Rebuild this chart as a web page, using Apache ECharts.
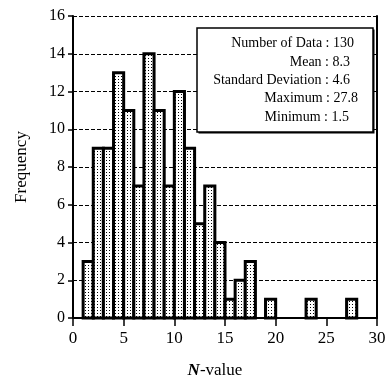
<!DOCTYPE html>
<html>
<head>
<meta charset="utf-8">
<script src="https://cdn.jsdelivr.net/npm/echarts@6/dist/echarts.min.js"></script>
<style>
  html, body { margin: 0; padding: 0; background: #fff; }
  #chart { width: 388px; height: 380px; }
</style>
</head>
<body>
<div id="chart"></div>
<script>
// bins are 1 unit wide, starting at binStart
var binStart = [1, 2, 3, 4, 5, 6, 7, 8, 9, 10, 11, 12, 13, 14, 15, 16, 17, 19, 23, 27]
var frequency = [3, 9, 9, 13, 11, 7, 14, 11, 7, 12, 9, 5, 7, 4, 1, 2, 3, 1, 1, 1]
var yTicks = [0, 2, 4, 6, 8, 10, 12, 14, 16]
var xTicks = [0, 5, 10, 15, 20, 25, 30]
var statLabels = ['Number of Data', 'Mean', 'Standard Deviation', 'Maximum', 'Minimum']
var statValues = ['130', '8.3', '4.6', '27.8', '1.5']

var serif = '"Liberation Serif", "DejaVu Serif", serif'

// dotted fill for the bars
var tile = document.createElement('canvas')
tile.width = 3
tile.height = 3
var tctx = tile.getContext('2d')
tctx.fillStyle = '#fff'
tctx.fillRect(0, 0, 3, 3)
tctx.fillStyle = '#000'
tctx.fillRect(1, 1, 1, 1)

var chart = echarts.init(document.getElementById('chart'))

var barData = binStart.map(function (s, i) { return [s, frequency[i]] })

var statRight = [354, 350, 350, 358, 349]
var statTop = [43, 62, 80, 98, 117]
var statGraphics = statLabels.map(function (lab, i) {
  return {
    type: 'text',
    z: 102,
    style: {
      x: statRight[i],
      y: statTop[i],
      text: lab + ' : ' + statValues[i],
      textAlign: 'right',
      textVerticalAlign: 'middle',
      font: '14px ' + serif,
      fill: '#000'
    }
  }
})

var option = {
  animation: false,
  backgroundColor: '#fff',
  grid: { left: 73, right: 11, top: 16, bottom: 62, containLabel: false, outerBoundsMode: 'none' },
  xAxis: {
    type: 'value',
    min: xTicks[0],
    max: xTicks[xTicks.length - 1],
    interval: 5,
    name: '{n|N}-value',
    nameLocation: 'middle',
    nameGap: 44,
    nameTextStyle: {
      fontFamily: serif,
      fontSize: 17,
      color: '#000',
      padding: [0, 20, 0, 0],
      rich: {
        n: { fontFamily: serif, fontSize: 17, fontStyle: 'italic', fontWeight: 'bold', color: '#000' }
      }
    },
    axisLine: { lineStyle: { color: '#000', width: 2 } },
    axisTick: { show: true, length: 8, lineStyle: { color: '#000', width: 1.5 } },
    axisLabel: { color: '#000', fontFamily: serif, fontSize: 17, margin: 12 },
    splitLine: { show: false }
  },
  yAxis: [{
    type: 'value',
    min: yTicks[0],
    max: yTicks[yTicks.length - 1],
    interval: 2,
    name: 'Frequency',
    nameLocation: 'middle',
    nameGap: 43,
    nameTextStyle: { fontFamily: serif, fontSize: 17, color: '#000' },
    axisLine: { show: true, lineStyle: { color: '#000', width: 2 } },
    axisTick: { show: true, length: 5, lineStyle: { color: '#000', width: 1.5 } },
    axisLabel: { color: '#000', fontFamily: serif, fontSize: 16, margin: 8 },
    splitLine: { show: true, lineStyle: { color: '#000', type: [4, 2], width: 1.2 } }
  }, {
    type: 'value',
    position: 'right',
    min: 0,
    max: 16,
    interval: 2,
    axisLine: { show: true, lineStyle: { color: '#000', width: 2 } },
    axisTick: { show: false },
    axisLabel: { show: false },
    splitLine: { show: false }
  }],
  series: [{
    type: 'custom',
    data: barData,
    renderItem: function (params, api) {
      var s = api.value(0)
      var v = api.value(1)
      var p0 = api.coord([s, 0])
      var p1 = api.coord([s + 1, v])
      return {
        type: 'rect',
        shape: { x: p0[0], y: p1[1], width: p1[0] - p0[0], height: p0[1] - p1[1] },
        style: {
          fill: { image: tile, repeat: 'repeat' },
          stroke: '#000',
          lineWidth: 3
        }
      }
    },
    z: 3
  }],
  graphic: [{
    type: 'rect',
    z: 100,
    shape: { x: 198.5, y: 29.5, width: 176, height: 104 },
    style: { fill: '#000' }
  }, {
    type: 'rect',
    z: 101,
    shape: { x: 197, y: 28, width: 176, height: 104 },
    style: { fill: '#fff', stroke: '#000', lineWidth: 1.5 }
  }].concat(statGraphics)
}

chart.setOption(option)
</script>
</body>
</html>
